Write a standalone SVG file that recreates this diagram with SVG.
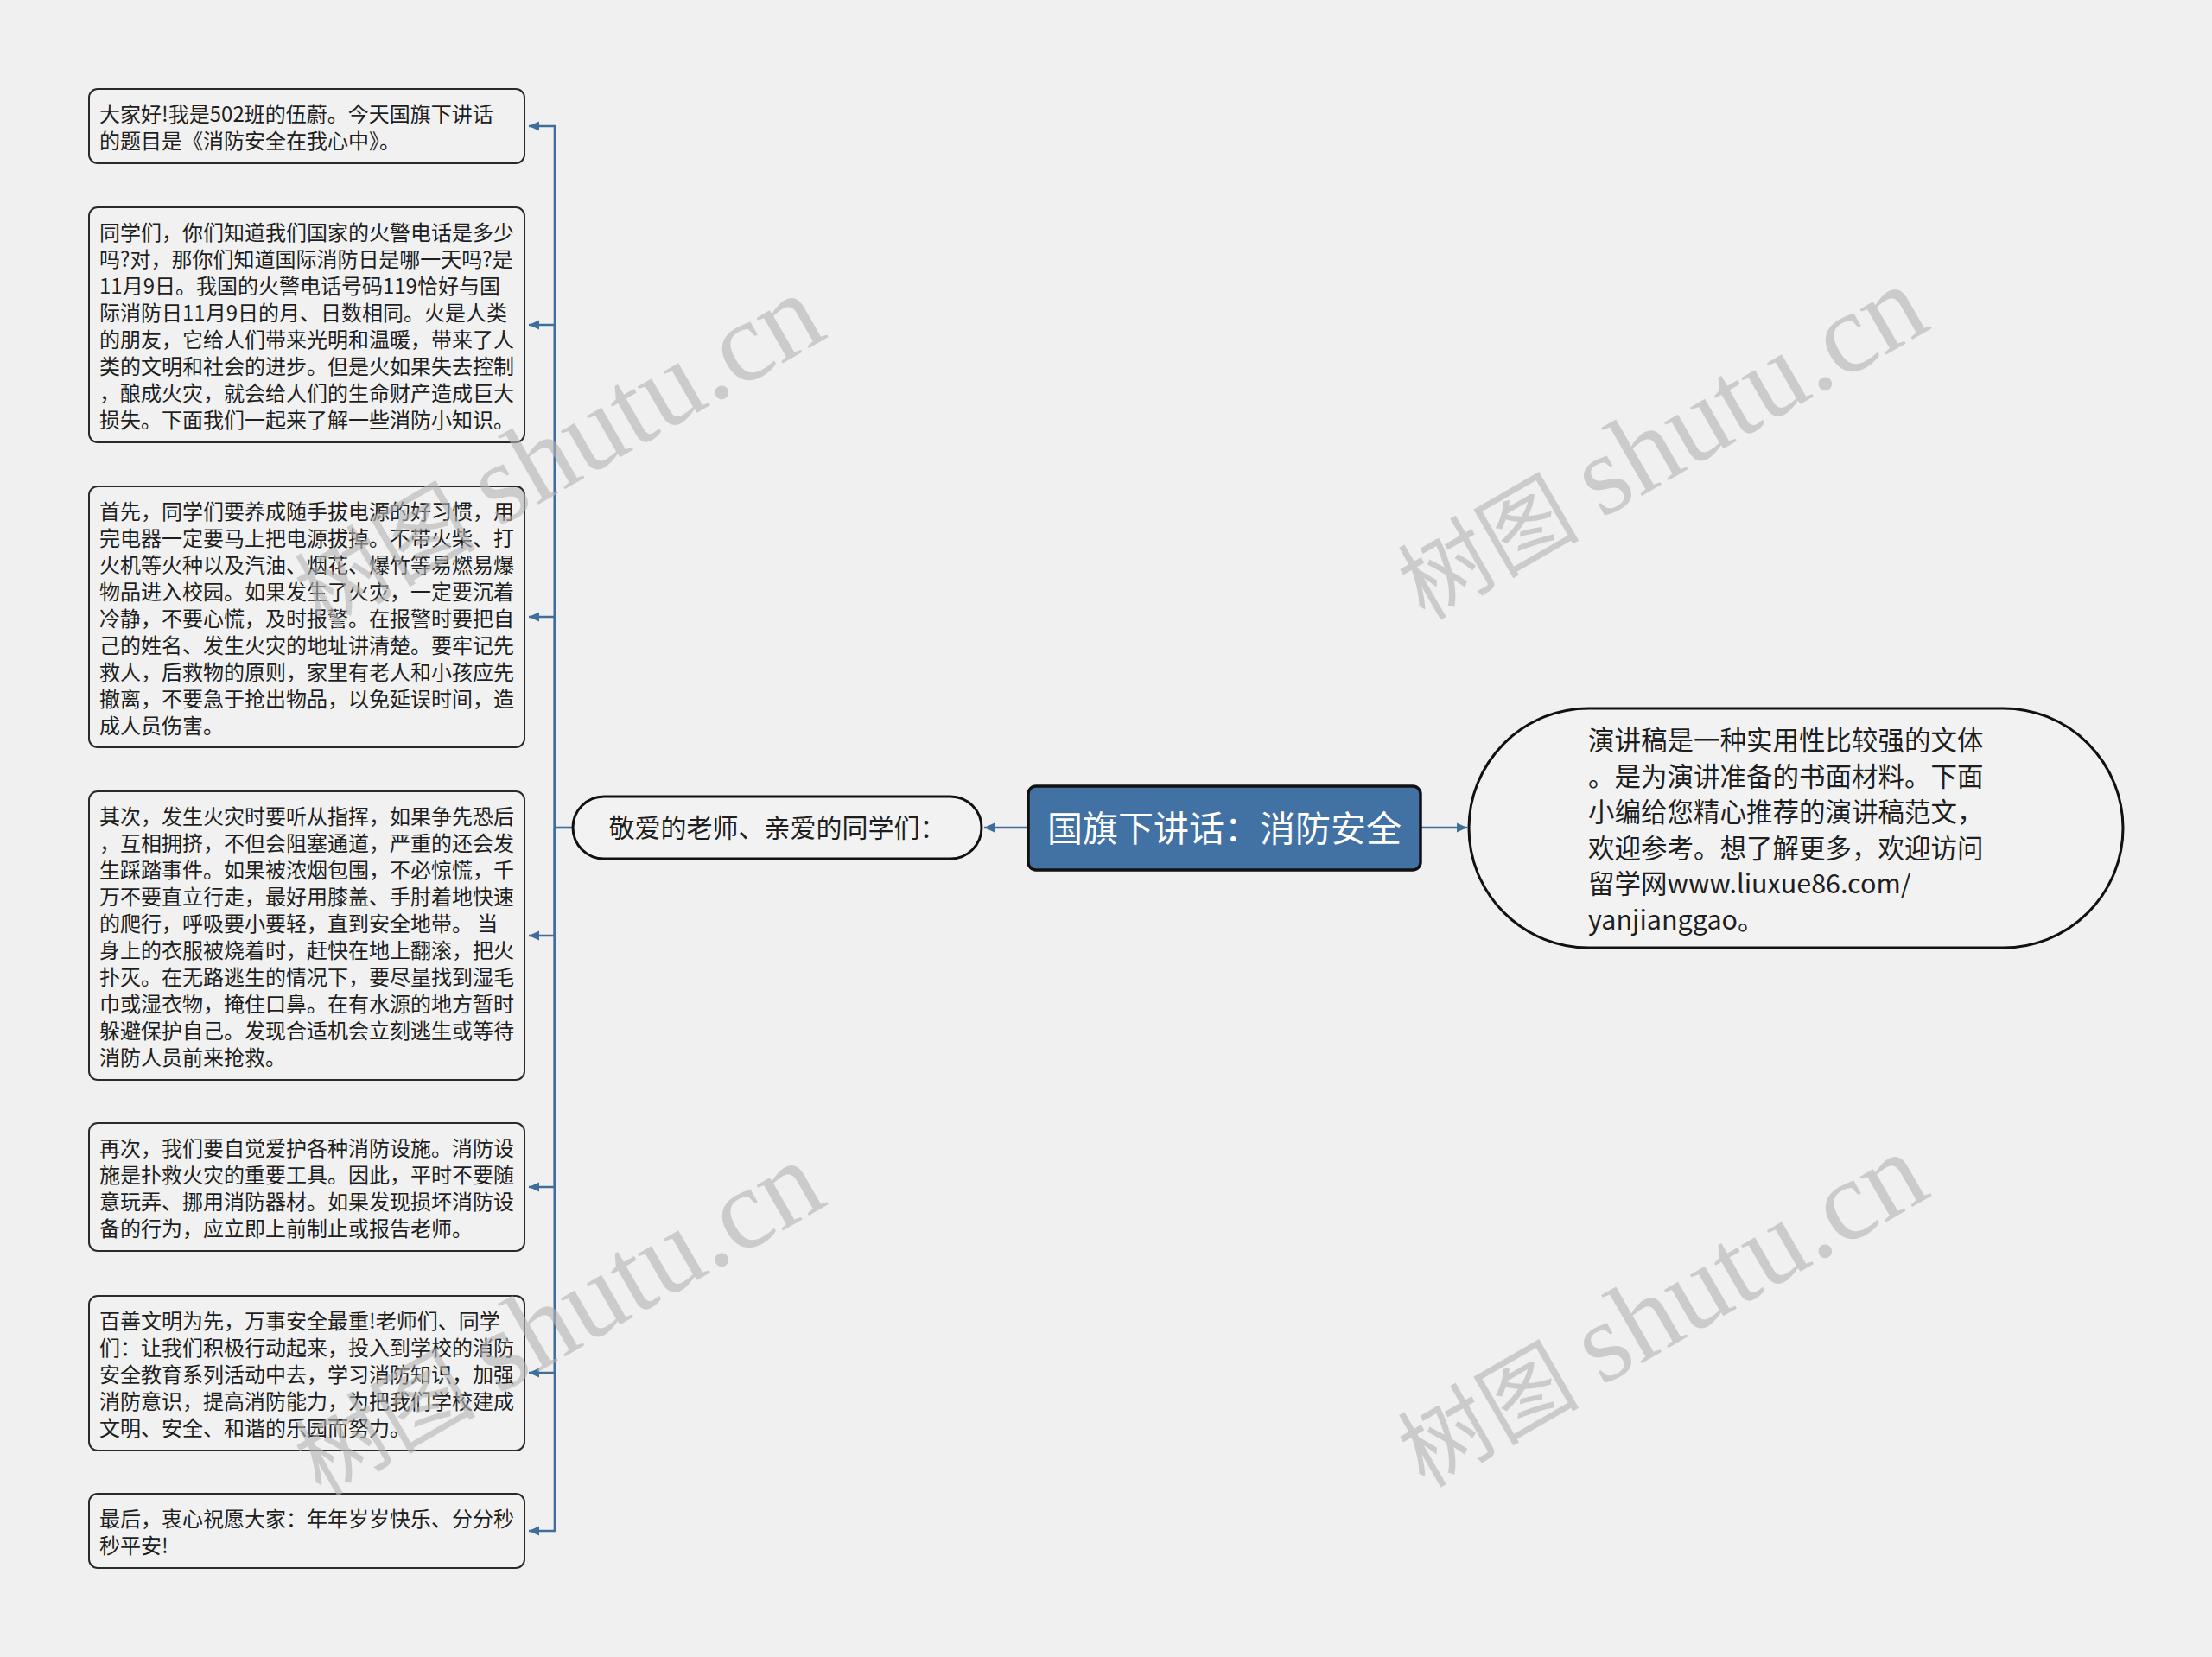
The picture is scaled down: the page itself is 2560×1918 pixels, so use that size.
<svg xmlns="http://www.w3.org/2000/svg" width="2560" height="1918" viewBox="0 0 2560 1918">
<style>
.bg{fill:#f0f0f0}
.box{fill:#f1f1f1;stroke:#2a2a2a;stroke-width:2}
.pill{fill:#f2f2f2;stroke:#111;stroke-width:3}
.root{fill:#4172a3;stroke:#111;stroke-width:3.5}
.t{font-family:"Noto Sans CJK SC","Noto Sans",sans-serif;font-size:24px;fill:#1e1e1e}
.tm{font-family:"Noto Sans CJK SC","Noto Sans",sans-serif;font-size:30px;fill:#1e1e1e}
.tr{font-family:"Noto Sans CJK SC","Noto Sans",sans-serif;font-size:41px;fill:#ffffff}
.c{fill:none;stroke:#3f6d9c;stroke-width:2.6}
.wm{font-family:"Liberation Serif","Noto Sans CJK SC",serif;font-size:105px;fill:#b4b4b4;opacity:0.6}
.wl{font-size:132px}
</style>
<defs>
<marker id="ar" viewBox="0 0 12 12" markerWidth="12" markerHeight="12" refX="12" refY="6" orient="auto" markerUnits="userSpaceOnUse">
<path d="M0,0.5 L12,6 L0,11.5 z" fill="#3f6d9c"/>
</marker>
</defs>
<rect class="bg" x="0" y="0" width="2560" height="1918"/>

<g id="connectors">
<path class="c" d="M1190,958 H1139" marker-end="url(#ar)"/>
<path class="c" d="M1644,958 H1698" marker-end="url(#ar)"/>
<path class="c" d="M663,958 H642"/>
<path class="c" d="M642,958 V146 H612" marker-end="url(#ar)"/>
<path class="c" d="M642,958 V376 H612" marker-end="url(#ar)"/>
<path class="c" d="M642,958 V714 H612" marker-end="url(#ar)"/>
<path class="c" d="M642,958 V1083 H612" marker-end="url(#ar)"/>
<path class="c" d="M642,958 V1374 H612" marker-end="url(#ar)"/>
<path class="c" d="M642,958 V1589 H612" marker-end="url(#ar)"/>
<path class="c" d="M642,958 V1772 H612" marker-end="url(#ar)"/>
</g>

<g id="root">
<rect class="root" x="1190" y="910" width="454" height="97" rx="9"/>
<text class="tr" x="1417" y="974" text-anchor="middle">国旗下讲话：消防安全</text>
</g>

<g id="greeting">
<rect class="pill" x="663" y="922" width="473" height="72" rx="36"/>
<text class="tm" x="899.5" y="969" text-anchor="middle">敬爱的老师、亲爱的同学们：</text>
</g>

<g id="intro">
<rect class="pill" x="1700" y="820" width="757" height="277" rx="138.5"/>
<text class="tm" style="font-size:30.5px">
<tspan x="1838" y="868">演讲稿是一种实用性比较强的文体</tspan>
<tspan x="1838" y="909.5">。是为演讲准备的书面材料。下面</tspan>
<tspan x="1838" y="951">小编给您精心推荐的演讲稿范文，</tspan>
<tspan x="1838" y="992.5">欢迎参考。想了解更多，欢迎访问</tspan>
<tspan x="1838" y="1034">留学网www.liuxue86.com/</tspan>
<tspan x="1838" y="1075.5">yanjianggao。</tspan>
</text>
</g>

<g id="p1">
<rect class="box" x="103" y="103" width="504" height="86" rx="10"/>
<text class="t">
<tspan x="115" y="141">大家好!我是502班的伍蔚。今天国旗下讲话</tspan>
<tspan x="115" y="172">的题目是《消防安全在我心中》。</tspan>
</text>
</g>

<g id="p2">
<rect class="box" x="103" y="240" width="504" height="272" rx="10"/>
<text class="t">
<tspan x="115" y="278">同学们，你们知道我们国家的火警电话是多少</tspan>
<tspan x="115" y="309">吗?对，那你们知道国际消防日是哪一天吗?是</tspan>
<tspan x="115" y="340">11月9日。我国的火警电话号码119恰好与国</tspan>
<tspan x="115" y="371">际消防日11月9日的月、日数相同。火是人类</tspan>
<tspan x="115" y="402">的朋友，它给人们带来光明和温暖，带来了人</tspan>
<tspan x="115" y="433">类的文明和社会的进步。但是火如果失去控制</tspan>
<tspan x="115" y="464">，酿成火灾，就会给人们的生命财产造成巨大</tspan>
<tspan x="115" y="495">损失。下面我们一起来了解一些消防小知识。</tspan>
</text>
</g>

<g id="p3">
<rect class="box" x="103" y="563" width="504" height="302" rx="10"/>
<text class="t">
<tspan x="115" y="601">首先，同学们要养成随手拔电源的好习惯，用</tspan>
<tspan x="115" y="632">完电器一定要马上把电源拔掉。不带火柴、打</tspan>
<tspan x="115" y="663">火机等火种以及汽油、烟花、爆竹等易燃易爆</tspan>
<tspan x="115" y="694">物品进入校园。如果发生了火灾，一定要沉着</tspan>
<tspan x="115" y="725">冷静，不要心慌，及时报警。在报警时要把自</tspan>
<tspan x="115" y="756">己的姓名、发生火灾的地址讲清楚。要牢记先</tspan>
<tspan x="115" y="787">救人，后救物的原则，家里有老人和小孩应先</tspan>
<tspan x="115" y="818">撤离，不要急于抢出物品，以免延误时间，造</tspan>
<tspan x="115" y="849">成人员伤害。</tspan>
</text>
</g>

<g id="p4">
<rect class="box" x="103" y="916" width="504" height="334" rx="10"/>
<text class="t">
<tspan x="115" y="954">其次，发生火灾时要听从指挥，如果争先恐后</tspan>
<tspan x="115" y="985">，互相拥挤，不但会阻塞通道，严重的还会发</tspan>
<tspan x="115" y="1016">生踩踏事件。如果被浓烟包围，不必惊慌，千</tspan>
<tspan x="115" y="1047">万不要直立行走，最好用膝盖、手肘着地快速</tspan>
<tspan x="115" y="1078">的爬行，呼吸要小要轻，直到安全地带。 当</tspan>
<tspan x="115" y="1109">身上的衣服被烧着时，赶快在地上翻滚，把火</tspan>
<tspan x="115" y="1140">扑灭。在无路逃生的情况下，要尽量找到湿毛</tspan>
<tspan x="115" y="1171">巾或湿衣物，掩住口鼻。在有水源的地方暂时</tspan>
<tspan x="115" y="1202">躲避保护自己。发现合适机会立刻逃生或等待</tspan>
<tspan x="115" y="1233">消防人员前来抢救。</tspan>
</text>
</g>

<g id="p5">
<rect class="box" x="103" y="1300" width="504" height="148" rx="10"/>
<text class="t">
<tspan x="115" y="1338">再次，我们要自觉爱护各种消防设施。消防设</tspan>
<tspan x="115" y="1369">施是扑救火灾的重要工具。因此，平时不要随</tspan>
<tspan x="115" y="1400">意玩弄、挪用消防器材。如果发现损坏消防设</tspan>
<tspan x="115" y="1431">备的行为，应立即上前制止或报告老师。</tspan>
</text>
</g>

<g id="p6">
<rect class="box" x="103" y="1500" width="504" height="179" rx="10"/>
<text class="t">
<tspan x="115" y="1538">百善文明为先，万事安全最重!老师们、同学</tspan>
<tspan x="115" y="1569">们：让我们积极行动起来，投入到学校的消防</tspan>
<tspan x="115" y="1600">安全教育系列活动中去，学习消防知识，加强</tspan>
<tspan x="115" y="1631">消防意识，提高消防能力，为把我们学校建成</tspan>
<tspan x="115" y="1662">文明、安全、和谐的乐园而努力。</tspan>
</text>
</g>

<g id="p7">
<rect class="box" x="103" y="1729" width="504" height="86" rx="10"/>
<text class="t">
<tspan x="115" y="1767">最后，衷心祝愿大家：年年岁岁快乐、分分秒</tspan>
<tspan x="115" y="1798">秒平安!</tspan>
</text>
</g>

<g id="watermarks">
<text class="wm" x="666" y="559" text-anchor="middle" transform="rotate(-30 666 559)">树图 <tspan class="wl">shutu.cn</tspan></text>
<text class="wm" x="1943" y="549" text-anchor="middle" transform="rotate(-30 1943 549)">树图 <tspan class="wl">shutu.cn</tspan></text>
<text class="wm" x="666" y="1563" text-anchor="middle" transform="rotate(-30 666 1563)">树图 <tspan class="wl">shutu.cn</tspan></text>
<text class="wm" x="1943" y="1553" text-anchor="middle" transform="rotate(-30 1943 1553)">树图 <tspan class="wl">shutu.cn</tspan></text>
</g>
</svg>
